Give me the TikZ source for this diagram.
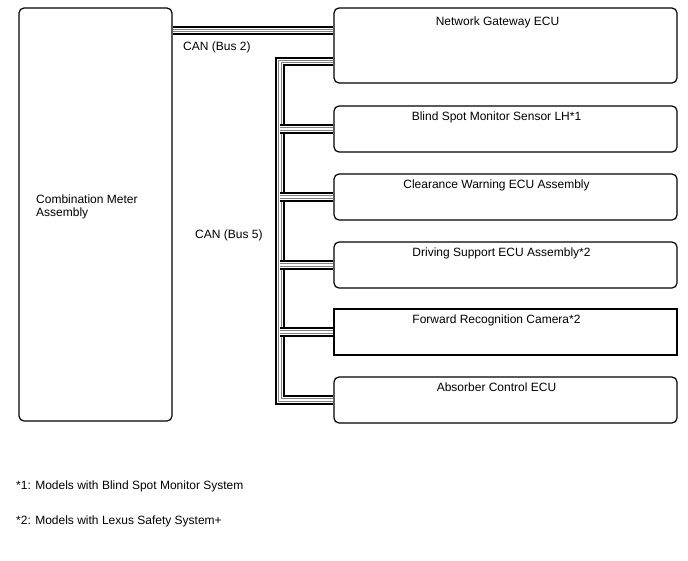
\documentclass[tikz,border=0pt]{standalone}
\usepackage{fontspec}
\setmainfont{Liberation Sans}
\usetikzlibrary{calc,backgrounds}

\begin{document}
\begin{tikzpicture}[x=1pt,y=-1pt,font=\fontsize{12}{13.4}\selectfont,
  ecu/.style={draw,line width=1.2pt,rounded corners=5pt,minimum width=343pt,minimum height=46pt,inner sep=0pt},
  flat/.style={ecu,sharp corners},
  title/.style={inner sep=0pt,anchor=base},
  bus/.style={line width=9.4pt,postaction={draw=white,line width=5.6pt},postaction={draw=gray,line width=3.2pt},postaction={draw=white,line width=1.6pt}}]
\useasboundingbox (0,0) rectangle (688,560);
\node[ecu,minimum width=153pt,minimum height=413pt] (meter) at (95.5,214.5) {};
\node[inner sep=0pt,anchor=west,align=left] at (36,206.7) {Combination Meter\\Assembly};
\node[ecu,minimum height=75pt] (gw) at (505.5,45.5) {};
\node[ecu] (bsm) at (505.5,129) {}; \node[ecu] (cw) at (505.5,197) {}; \node[ecu] (ds) at (505.5,265) {};
\node[flat] (frc) at (505.5,332) {}; \node[ecu] (acu) at (505.5,400) {};
\node[title] at ($(gw.north)+(-8,18)$) {Network Gateway ECU};
\node[title] at ($(bsm.north)+(-9,15.5)$) {Blind Spot Monitor Sensor LH*1};
\node[title] at ($(cw.north)+(-9,15.5)$) {Clearance Warning ECU Assembly};
\node[title] at ($(ds.north)+(-4,15.5)$) {Driving Support ECU Assembly*2};
\node[title] at ($(frc.north)+(-9,15.5)$) {Forward Recognition Camera*2};
\node[title] at ($(acu.north)+(-9,15.5)$) {Absorber Control ECU};
\node[title,anchor=base west] at (183,50) {CAN (Bus 2)};
\node[title,anchor=base west] at (195,238.5) {CAN (Bus 5)};
\node[title,anchor=base west] at (16,489) {*1: Models with Blind Spot Monitor System};
\node[title,anchor=base west] at (16,524.3) {*2: Models with Lexus Safety System+};
\coordinate (bus2) at (0,30.5); \coordinate (trunk) at (280,61.5);
\begin{scope}[on background layer]
\draw[bus] (meter.east |- bus2) -- (gw.west |- bus2);
\draw[bus] (gw.west |- trunk) -| (trunk |- acu.west) -- (acu.west);
\foreach \n in {bsm,cw,ds,frc} \draw[bus] (trunk |- \n.west) -- (\n.west);
\end{scope}
\end{tikzpicture}
\end{document}
